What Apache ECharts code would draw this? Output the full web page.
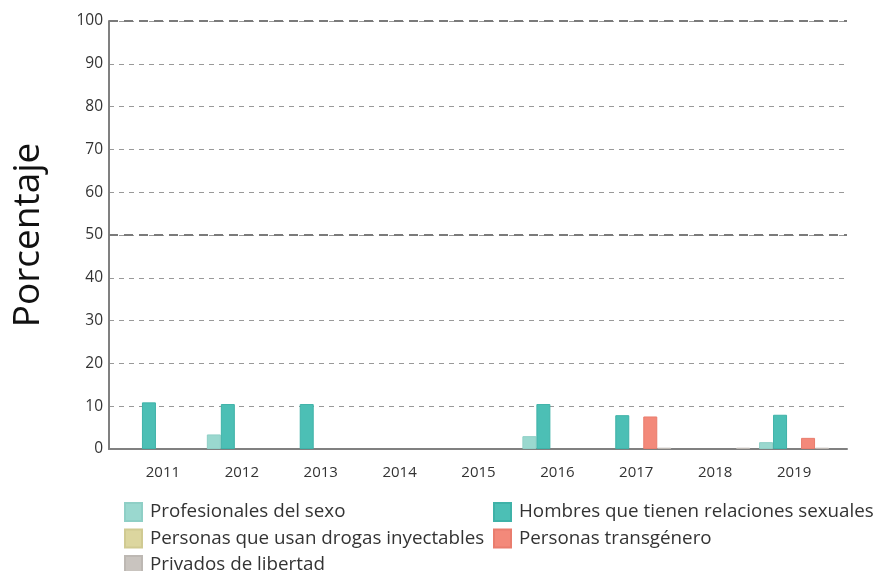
<!DOCTYPE html>
<html>
<head>
<meta charset="utf-8">
<script src="https://cdn.jsdelivr.net/npm/echarts@6/dist/echarts.min.js"></script>
<style>
html,body{margin:0;padding:0;background:#fff;}
#chart{width:880px;height:571px;}
</style>
</head>
<body>
<div id="chart"></div>
<script>
const categories = ['2011','2012','2013','2014','2015','2016','2017','2018','2019'];
const yTicks = [0,10,20,30,40,50,60,70,80,90,100];
const seriesNames = ['Profesionales del sexo','Hombres que tienen relaciones sexuales','Personas que usan drogas inyectables','Personas transgénero','Privados de libertad'];
const profesionales = [null, 3.4, null, null, null, 3.0, null, null, 1.6];
const hombres = [10.9, 10.5, 10.5, null, null, 10.5, 7.9, null, 8.0];
const drogas = [null, null, null, null, null, null, null, null, null];
const transgenero = [null, null, null, null, null, null, 7.6, null, 2.6];
const privados = [null, null, null, null, null, null, 0.3, 0.3, 0.3];
const colors = ['#9ad8cf','#4cbfb5','#dcd69f','#f3897a','#c9c4bf'];
const borders = ['#8fcfc6','#3fb2a8','#d0ca92','#e97d6e','#bdb8b3'];

const FONT = 'Open Sans';
const chart = echarts.init(document.getElementById('chart'), null, {renderer:'canvas'});
const dataSets = [profesionales, hombres, drogas, transgenero, privados];
const series = dataSets.map((d, i) => ({
  name: seriesNames[i],
  type: 'bar',
  xAxisIndex: 1,
  yAxisIndex: 1,
  data: d,
  barWidth: 14,
  barGap: '0%',
  itemStyle: {color: colors[i], borderColor: borders[i], borderWidth: 1},
  emphasis: {disabled: true}
}));
series.push({
  type: 'line',
  xAxisIndex: 0,
  yAxisIndex: 0,
  data: [],
  silent: true,
  markLine: {
    symbol: 'none',
    silent: true,
    label: {show: false},
    lineStyle: {color: '#7a7a7a', width: 2, type: [9, 6]},
    data: [{yAxis: 50}, {yAxis: 100}]
  }
});

chart.setOption({
  animation: false,
  textStyle: {fontFamily: FONT},
  grid: [
    {left: 109, right: 33, top: 21, bottom: 122},
    {left: 123.5, right: 46.5, top: 21, bottom: 122}
  ],
  xAxis: [
    {type: 'category', gridIndex: 0, data: categories, boundaryGap: true,
     axisLine: {show: true, lineStyle: {color: '#808080', width: 2}},
     axisTick: {show: false}, axisLabel: {show: false}, splitLine: {show: false}},
    {type: 'category', gridIndex: 1, data: categories,
     axisLine: {show: false}, axisTick: {show: false},
     axisLabel: {fontFamily: FONT, fontSize: 15, color: '#333', margin: 16}}
  ],
  yAxis: [
    {type: 'value', gridIndex: 0, min: 0, max: 100, interval: 10,
     axisLine: {show: true, lineStyle: {color: '#808080', width: 2}},
     axisTick: {show: false},
     axisLabel: {fontFamily: FONT, fontSize: 15.5, color: '#333', margin: 6},
     splitLine: {show: true, lineStyle: {color: '#999', width: 1, type: [5, 5]}}},
    {type: 'value', gridIndex: 1, min: 0, max: 100, interval: 10, show: false}
  ],
  graphic: [{
    type: 'text',
    x: 28, y: 235,
    rotation: Math.PI / 2,
    style: {text: 'Porcentaje', fontFamily: FONT, fontSize: 37, fill: '#111',
            textAlign: 'center', textVerticalAlign: 'middle'}
  }],
  legend: [
    {orient: 'vertical', left: 119, top: 497, height: 80, itemWidth: 17, itemHeight: 18, itemGap: 6.5,
     icon: 'rect', selectedMode: false,
     data: [seriesNames[0], seriesNames[2], seriesNames[4]],
     textStyle: {fontFamily: FONT, fontSize: 18.8, color: '#333', padding: [0,0,0,3]}},
    {orient: 'vertical', left: 488, top: 497, height: 80, itemWidth: 17, itemHeight: 18, itemGap: 6.5,
     icon: 'rect', selectedMode: false,
     data: [seriesNames[1], seriesNames[3]],
     textStyle: {fontFamily: FONT, fontSize: 18.8, color: '#333', padding: [0,0,0,3]}}
  ],
  series: series
});
</script>
</body>
</html>
